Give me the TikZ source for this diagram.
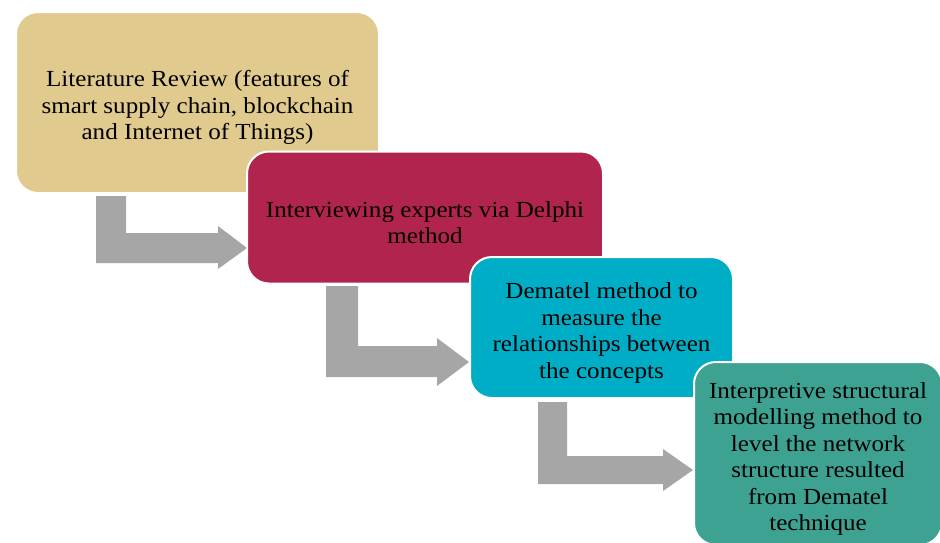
\documentclass[tikz,border=0pt]{standalone}
\usepackage{fontspec}
\setmainfont[FakeStretch=1.09]{Liberation Serif}
\definecolor{tanbox}{RGB}{224,202,142}
\definecolor{crimbox}{RGB}{176,36,78}
\definecolor{cyanbox}{RGB}{0,173,198}
\definecolor{tealbox}{RGB}{62,162,146}
\definecolor{arrowgray}{RGB}{166,166,166}
\newcommand{\toppad}{\rule{0pt}{26.5pt}}
\tikzset{
  stepbox/.style={draw=white, line width=2pt, rounded corners=22pt, align=center,
    inner sep=0pt, font=\fontsize{23}{26.5}\selectfont, text=black},
  bentarrow/.style={fill=arrowgray, draw=none}
}
\begin{document}
\begin{tikzpicture}[x=1pt,y=-1pt]
\useasboundingbox (0,0) rectangle (940,542);
% arrows
\fill[bentarrow] (96,196) -- (126,196) -- (126,233) -- (218,233) -- (218,226) -- (247,248) -- (218,269) -- (218,263) -- (96,263) -- cycle;
\fill[bentarrow] (326,286) -- (358,286) -- (358,346) -- (437,346) -- (437,338) -- (469,362) -- (437,386) -- (437,377) -- (326,377) -- cycle;
\fill[bentarrow] (538,402) -- (567,402) -- (567,456) -- (663,456) -- (663,449) -- (693,470) -- (663,491) -- (663,484) -- (538,484) -- cycle;
% boxes
\node[stepbox, fill=tanbox, minimum width=363pt, minimum height=181pt] (b1) at (197.5,102.5)
  {\toppad Literature Review (features of\\smart supply chain, blockchain\\and Internet of Things)};
\node[stepbox, fill=crimbox, minimum width=356pt, minimum height=132pt] (b2) at (425,217.5)
  {\toppad Interviewing experts via Delphi\\method};
\node[stepbox, fill=cyanbox, minimum width=263pt, minimum height=141pt] (b3) at (601.5,327.5)
  {\toppad Dematel method to\\measure the\\relationships between\\the concepts};
\node[stepbox, fill=tealbox, minimum width=248pt, minimum height=183pt] (b4) at (818,453.5)
  {\toppad Interpretive structural\\modelling method to\\level the network\\structure resulted\\from Dematel\\technique};
\end{tikzpicture}
\end{document}
